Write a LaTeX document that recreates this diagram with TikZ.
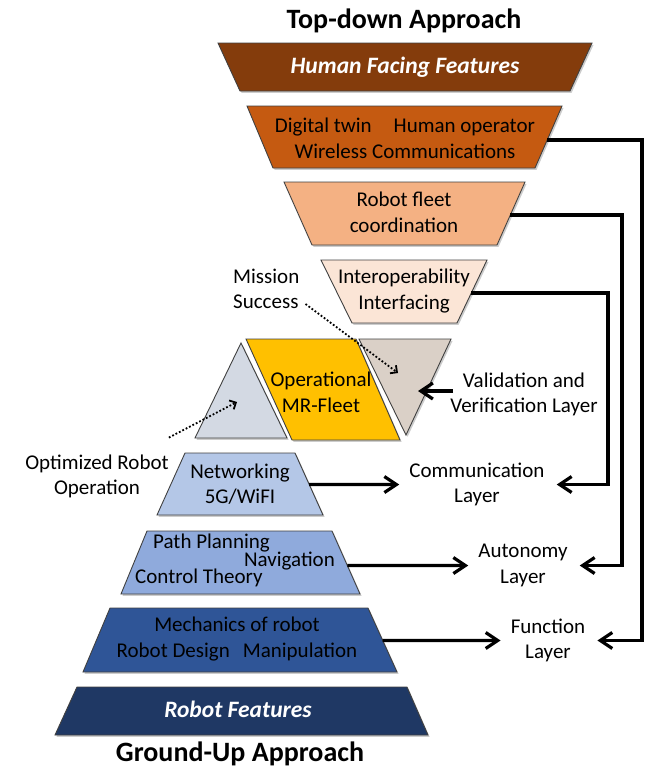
\documentclass[tikz,border=0pt]{standalone}
\usepackage{fontspec}
\setmainfont{Carlito}
\usetikzlibrary{arrows.meta,calc,shadows}
\definecolor{cHFF}{HTML}{843C0C}
\definecolor{cT2}{HTML}{C55A11}
\definecolor{cT3}{HTML}{F4B183}
\definecolor{cT4}{HTML}{FBE5D6}
\definecolor{cNet}{HTML}{B4C7E7}
\definecolor{cPP}{HTML}{8FAADC}
\definecolor{cMech}{HTML}{2F5597}
\definecolor{cRF}{HTML}{1F3864}
\definecolor{cLTri}{HTML}{D3D9E3}
\definecolor{cYel}{HTML}{FFC000}
\definecolor{cRTri}{HTML}{DAD0C7}
\newcommand\mytrap[8]{%
  \coordinate (#1-tl) at (#3,#5);
  \coordinate (#1-tr) at (#4,#5);
  \coordinate (#1-bl) at (#6,#8);
  \coordinate (#1-br) at (#7,#8);
  \path[shapestyle, fill=#2] (#1-tl) -- (#1-tr) -- (#1-br) -- (#1-bl) -- cycle;
}
\begin{document}
\begin{tikzpicture}[x=1pt,y=-1pt,
  shapestyle/.style={draw=black!75, line width=0.9pt, line join=miter,
    drop shadow={shadow xshift=1.6pt, shadow yshift=-1.8pt, opacity=0.4}},
  body/.style={font=\fontsize{21}{25.5}\selectfont, inner sep=0pt, align=center},
  titletext/.style={font=\fontsize{28}{32}\selectfont\bfseries, inner sep=0pt},
  feat/.style={font=\fontsize{23.5}{28}\selectfont\bfseries\itshape, text=white, inner sep=0pt},
  conn/.style={line width=3.2pt, line join=miter, -{Straight Barb[length=12pt,width=16pt]}},
  dotarrow/.style={line width=1.8pt, dotted, -{Straight Barb[length=5pt,width=10pt]}}]
\useasboundingbox (0,0) rectangle (646,769);
% inverted pyramid
\mytrap{hff}{cHFF}{218}{592}{43}{240}{570}{91}
\mytrap{tb}{cT2}{247}{562}{106}{273}{535}{168}
\mytrap{tc}{cT3}{284}{525}{182}{312}{497}{245}
\mytrap{td}{cT4}{321}{487}{260}{352}{457}{323}
% middle shapes
\coordinate (lt-a) at (241,343);
\coordinate (lt-l) at (195,438);
\coordinate (lt-r) at (287,438);
\path[shapestyle, fill=cLTri] (lt-a) -- (lt-r) -- (lt-l) -- cycle;
\coordinate (pg-tl) at (246,339);
\coordinate (pg-tr) at (356,339);
\coordinate (pg-br) at (400,440);
\coordinate (pg-bl) at (292,440);
\path[shapestyle, fill=cYel] (pg-tl) -- (pg-tr) -- (pg-br) -- (pg-bl) -- cycle;
\coordinate (rt-l) at (359,339);
\coordinate (rt-r) at (451,339);
\coordinate (rt-a) at (406,435);
\path[shapestyle, fill=cRTri] (rt-l) -- (rt-r) -- (rt-a) -- cycle;
% pyramid
\mytrap{net}{cNet}{185}{295}{453}{157}{323}{515}
\mytrap{pp}{cPP}{147}{332}{531}{121}{360}{594}
\mytrap{mech}{cMech}{110}{368}{608}{83}{397}{672}
\mytrap{rf}{cRF}{77}{407}{687}{55}{428}{735}
% texts
\node[titletext] (topt) at (404,21) {Top-down Approach};
\node[titletext] (bott) at (240,754) {Ground-Up Approach};
\node[feat] (hfft) at (405,67) {Human Facing Features};
\node[body] (tbt) at (405,138.5) {Digital twin\hspace{22pt}Human operator\\Wireless Communications};
\node[body] (tct) at (404,212.5) {Robot fleet\\coordination};
\node[body] (tdt) at (404,291) {Interoperability\\Interfacing};
\node[body] (opt) at (321,392.5) {Operational\\MR-Fleet};
\node[body] (nett) at (240,484) {Networking\\5G/WiFI};
\node[body, anchor=west] (ppt) at (153,543) {Path Planning};
\node[body, anchor=east] (navt) at (335,561) {Navigation};
\node[body, anchor=west] (ctt) at (135,578) {Control Theory};
\node[body] (mecht) at (237,639) {Mechanics of robot\\Robot Design\hspace{13pt}Manipulation};
\node[feat] (rft) at (238,709) {Robot Features};
\node[body, align=left, anchor=west] (ms) at (233,289) {Mission\\Success};
\node[body] (orobot) at (97,476.5) {Optimized Robot\\Operation};
\node[body] (val) at (524,394.5) {Validation and\\Verification Layer};
\node[body] (comm) at (477,484.5) {Communication\\Layer};
\node[body] (auto) at (523,565.5) {Autonomy\\Layer};
\node[body] (func) at (548,640.5) {Function\\Layer};
% rails
\coordinate (rail1) at (642,0);
\coordinate (rail2) at (622,0);
\coordinate (rail3) at (608,0);
\coordinate (tb-p) at ($(tb-tr)!0.548!(tb-br)$);
\coordinate (tc-p) at ($(tc-tr)!0.524!(tc-br)$);
\coordinate (td-p) at ($(td-tr)!0.524!(td-br)$);
\draw[conn, shorten >=12pt] (tb-p) -- (tb-p -| rail1) |- (func.east);
\draw[conn, shorten >=12pt] (tc-p) -- (tc-p -| rail2) |- (auto.east);
\draw[conn, shorten >=12pt] (td-p) -- (td-p -| rail3) |- (comm.east);
% left arrows
\draw[conn, shorten >=10pt] (intersection of net-tr--net-br and comm.west--comm.east) -- (comm.west);
\draw[conn, shorten >=10pt] (intersection of pp-tr--pp-br and auto.west--auto.east) -- (auto.west);
\draw[conn, shorten >=10pt] (intersection of mech-tr--mech-br and func.west--func.east) -- (func.west);
% validation
\coordinate (vtip) at (418,391);
\draw[conn] ([xshift=3pt,yshift=3.5pt]val.west) -- (vtip);
% dotted arrows
\coordinate (ms-end) at (398,373);
\draw[dotarrow] ([xshift=6pt,yshift=-15pt]ms.east) -- (ms-end);
\coordinate (or-end) at (237,402);
\draw[dotarrow] ([xshift=0pt,yshift=17pt]orobot.north east) -- (or-end);
\end{tikzpicture}
\end{document}
